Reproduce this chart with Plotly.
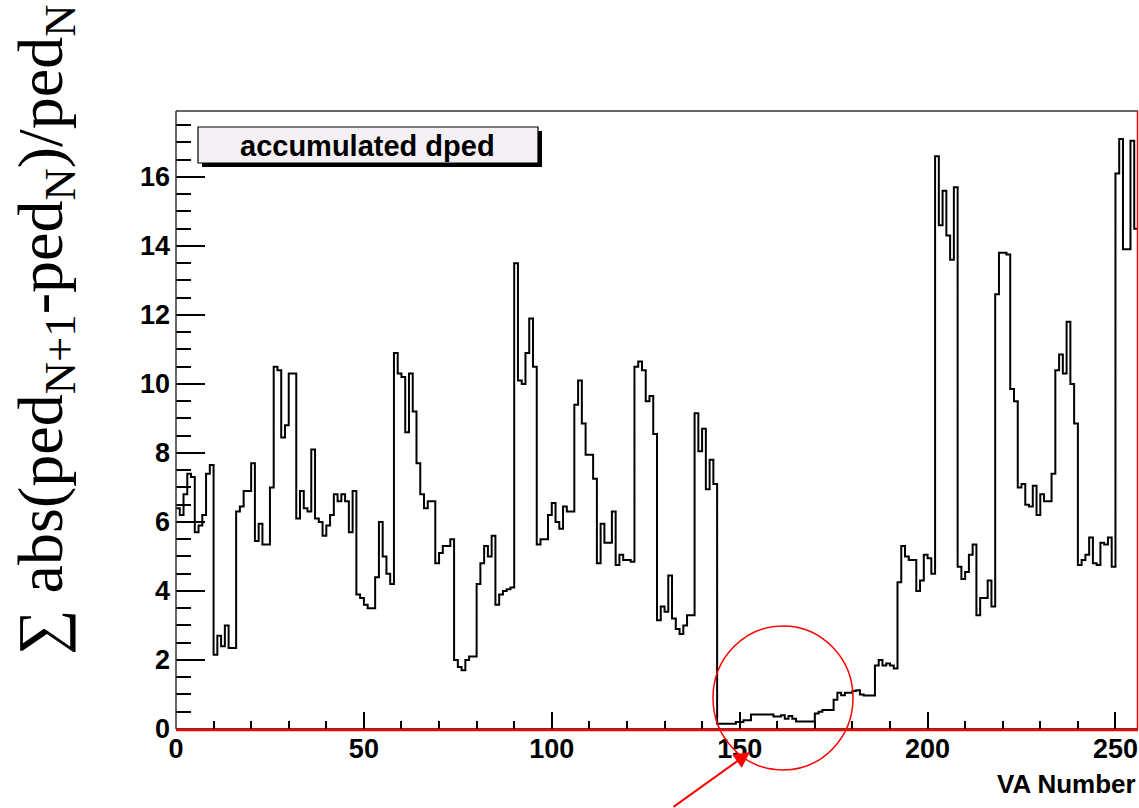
import plotly.graph_objects as go

# ---- data: accumulated dped per VA (256 VAs, bin i spans [i, i+1]) ----
va_edges_start = list(range(256))
dped = [
    6.4, 6.2, 6.8, 7.4, 7.3, 5.7, 5.9, 6.2, 7.4, 7.65,          # 0-9
    2.15, 2.7, 2.4, 3.0, 2.35, 2.35, 6.3, 6.45, 6.9, 6.9,       # 10-19
    7.7, 5.45, 5.95, 5.35, 5.35, 7.0, 10.5, 10.4, 8.45, 8.8,    # 20-29
    10.3, 10.3, 6.1, 6.9, 6.4, 6.3, 8.1, 6.1, 6.0, 5.6,         # 30-39
    5.9, 6.2, 6.8, 6.6, 6.8, 6.6, 5.7, 6.9, 3.9, 3.8,           # 40-49
    3.6, 3.5, 3.5, 4.4, 6.0, 5.0, 4.5, 4.2, 10.9, 10.3,         # 50-59
    10.2, 8.6, 10.3, 9.2, 7.7, 6.8, 6.4, 6.6, 6.6, 4.8,         # 60-69
    5.1, 5.3, 5.3, 5.5, 2.0, 1.8, 1.7, 2.0, 2.1, 2.1,           # 70-79
    4.2, 4.8, 5.3, 5.0, 5.6, 3.6, 3.9, 4.0, 4.05, 4.1,          # 80-89
    13.5, 10.1, 10.0, 10.9, 11.9, 10.5, 5.35, 5.5, 5.5, 6.2,    # 90-99
    6.55, 6.0, 5.8, 6.45, 6.3, 6.3, 9.4, 10.1, 8.85, 7.95,      # 100-109
    7.95, 7.25, 4.8, 5.95, 5.4, 5.4, 6.3, 4.75, 5.05, 4.9,      # 110-119
    4.9, 4.85, 10.5, 10.65, 10.4, 9.5, 9.65, 8.55, 3.15, 3.55,  # 120-129
    3.4, 4.45, 3.2, 2.9, 2.75, 3.0, 3.3, 3.3, 9.15, 8.05,       # 130-139
    8.7, 6.95, 7.8, 7.1, 0.15, 0.15, 0.15, 0.15, 0.15, 0.2,     # 140-149
    0.2, 0.25, 0.25, 0.42, 0.42, 0.42, 0.42, 0.42, 0.42, 0.36,  # 150-159
    0.36, 0.4, 0.3, 0.38, 0.3, 0.22, 0.22, 0.22, 0.22, 0.22,    # 160-169
    0.45, 0.5, 0.55, 0.55, 0.55, 0.85, 1.05, 0.98, 1.05, 1.05,  # 170-179
    1.1, 1.12, 1.0, 0.97, 0.97, 0.97, 1.84, 2.0, 1.84, 1.9,     # 180-189
    1.84, 1.75, 4.25, 5.3, 5.0, 4.9, 4.9, 4.0, 4.3, 5.05,       # 190-199
    4.95, 4.5, 16.6, 14.6, 15.6, 14.3, 13.6, 15.7, 4.7, 4.35,   # 200-209
    4.55, 5.05, 5.35, 3.3, 3.8, 3.8, 4.3, 3.55, 12.6, 13.8,     # 210-219
    13.8, 13.75, 9.85, 9.5, 7.0, 7.1, 6.5, 6.45, 7.05, 6.2,     # 220-229
    6.8, 6.6, 6.6, 7.4, 10.4, 10.85, 10.3, 11.8, 10.0, 8.85,    # 230-239
    4.75, 4.9, 5.05, 5.55, 4.8, 4.75, 5.4, 5.35, 5.55, 4.7,     # 240-249
    16.1, 17.1, 13.9, 13.9, 17.05, 14.5,                        # 250-255
]
x_tick_vals = [0, 50, 100, 150, 200, 250]
y_tick_vals = [0, 2, 4, 6, 8, 10, 12, 14, 16]
legend_label = "accumulated dped"
x_title = "VA Number"
y_title = "∑ abs(ped<sub>N+1</sub>-ped<sub>N</sub>)/ped<sub>N</sub>"

# ---- geometry ----
W, H = 1139, 808
L, R, T, B = 176, 1, 111, 79
PW, PH = W - L - R, H - T - B
X_MAX, Y_MAX = 256, 17.91


def px(xp):
    return (xp - L) / PW


def py(yp):
    return (H - B - yp) / PH


step_x = va_edges_start + [X_MAX]
step_y = dped + [dped[-1]]

fig = go.Figure()
fig.add_trace(go.Scatter(
    x=step_x, y=step_y, mode="lines", line_shape="hv",
    line=dict(color="black", width=2), hoverinfo="skip", showlegend=False,
))

tickfont = dict(family="Liberation Sans", size=27, color="black", weight="bold")

fig.update_layout(
    width=W, height=H,
    margin=dict(l=L, r=R, t=T, b=B, pad=0),
    paper_bgcolor="white", plot_bgcolor="white",
    showlegend=False,
    xaxis=dict(
        range=[0, X_MAX], tickvals=x_tick_vals, ticks="inside", ticklen=17,
        tickwidth=1.5, tickcolor="black", showgrid=False, zeroline=False,
        showline=False, tickfont=tickfont, ticklabelstandoff=1,
        minor=dict(dtick=10, ticks="inside", ticklen=8, tickwidth=1.5,
                   tickcolor="black", showgrid=False),
    ),
    yaxis=dict(
        range=[0, Y_MAX], tickvals=y_tick_vals, ticks="inside", ticklen=29,
        tickwidth=1.5, tickcolor="black", showgrid=False, zeroline=False,
        showline=False, tickfont=tickfont, ticklabelstandoff=5,
        minor=dict(dtick=0.5, ticks="inside", ticklen=15, tickwidth=1.5,
                   tickcolor="black", showgrid=False),
    ),
)

shapes = []
# frame: top + left dark, right + bottom red
shapes.append(dict(type="line", xref="paper", yref="paper", x0=0, x1=1, y0=1, y1=1,
                   line=dict(color="#333333", width=1.5)))
shapes.append(dict(type="line", xref="paper", yref="paper", x0=0, x1=0, y0=0, y1=1,
                   line=dict(color="#333333", width=1.5)))
shapes.append(dict(type="line", xref="paper", yref="paper", x0=0, x1=1, y0=0, y1=0,
                   line=dict(color="black", width=1.5)))
shapes.append(dict(type="line", xref="paper", yref="paper", x0=0, x1=1, y0=py(730), y1=py(730),
                   line=dict(color="red", width=2.5)))
shapes.append(dict(type="line", xref="paper", yref="paper", x0=px(1137.5), x1=px(1137.5), y0=0, y1=1,
                   line=dict(color="red", width=1.5)))
# legend box shadow + box
shapes.append(dict(type="rect", xref="paper", yref="paper",
                   x0=px(202), x1=px(542), y0=py(131), y1=py(167),
                   fillcolor="black", line=dict(width=0), layer="above"))
shapes.append(dict(type="rect", xref="paper", yref="paper",
                   x0=px(198), x1=px(538), y0=py(127), y1=py(163),
                   fillcolor="#f4f0f4", line=dict(color="black", width=1.2), layer="above"))
# red circle
shapes.append(dict(type="circle", xref="paper", yref="paper",
                   x0=px(713), x1=px(853), y0=py(770), y1=py(626),
                   line=dict(color="red", width=1.5), fillcolor="rgba(0,0,0,0)", layer="above"))
fig.update_layout(shapes=shapes)

annotations = [
    dict(text=legend_label, xref="paper", yref="paper", x=px(367), y=py(146),
         xanchor="center", yanchor="middle", showarrow=False,
         font=dict(family="Liberation Sans", size=29, color="black", weight="bold")),
    dict(text=x_title, xref="paper", yref="paper", x=px(1138), y=py(784),
         xanchor="right", yanchor="middle", showarrow=False,
         font=dict(family="Liberation Sans", size=26, color="black", weight="bold")),
    dict(text=y_title, xref="paper", yref="paper", x=px(45), y=py(330),
         xanchor="center", yanchor="middle", showarrow=False, textangle=-90,
         font=dict(family="Liberation Serif", size=64, color="black")),
    dict(text="", xref="paper", yref="paper", x=px(750), y=py(752),
         ax=-78, ay=56, showarrow=True, arrowhead=2, arrowsize=1.6,
         arrowwidth=2, arrowcolor="red"),
]
fig.update_layout(annotations=annotations)

fig.write_html("out.html")
